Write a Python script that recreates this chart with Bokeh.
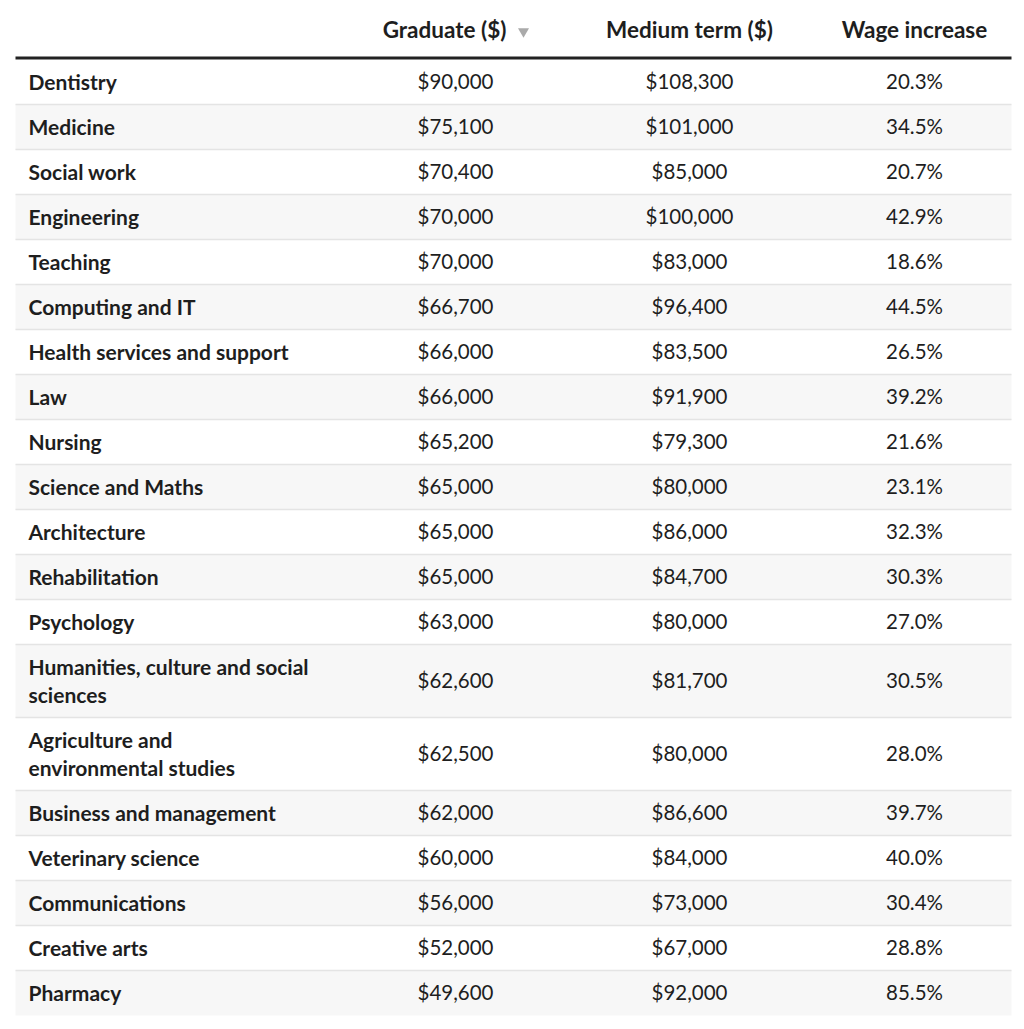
from bokeh.plotting import figure
from bokeh.models import ColumnDataSource, Range1d
from bokeh.core.properties import value
from bokeh.embed import file_html
from bokeh.resources import INLINE

categories = ["Dentistry", "Medicine", "Social work", "Engineering", "Teaching",
              "Computing and IT", "Health services and support", "Law", "Nursing",
              "Science and Maths", "Architecture", "Rehabilitation", "Psychology",
              "Humanities, culture and social\nsciences",
              "Agriculture and\nenvironmental studies",
              "Business and management", "Veterinary science", "Communications",
              "Creative arts", "Pharmacy"]
graduate = [90000, 75100, 70400, 70000, 70000, 66700, 66000, 66000, 65200, 65000,
            65000, 65000, 63000, 62600, 62500, 62000, 60000, 56000, 52000, 49600]
medium = [108300, 101000, 85000, 100000, 83000, 96400, 83500, 91900, 79300, 80000,
          86000, 84700, 80000, 81700, 80000, 86600, 84000, 73000, 67000, 92000]
wage = [20.3, 34.5, 20.7, 42.9, 18.6, 44.5, 26.5, 39.2, 21.6, 23.1, 32.3, 30.3,
        27.0, 30.5, 28.0, 39.7, 40.0, 30.4, 28.8, 85.5]
headers = ["Graduate ($)", "Medium term ($)", "Wage increase"]

FONT = "Lato"
TXT = "#1e1e1e"
W, H = 1016, 1021
p = figure(width=W, height=H, output_backend="svg", toolbar_location=None,
           x_range=Range1d(0, W), y_range=Range1d(H, 0),
           min_border=0)
p.axis.visible = False
p.grid.visible = False
p.outline_line_color = None
p.background_fill_color = "white"
p.border_fill_color = "white"

left, right = 15, 1011
top0 = 59
single_h, double_h = 45, 73
col_x = [455, 689, 914]
label_x = 28
line_gap = 28
dy = -1

tops, bots, centers = [], [], []
y = top0
for c in categories:
    h = double_h if "\n" in c else single_h
    tops.append(y)
    bots.append(y + h)
    centers.append(y + h / 2 + dy)
    y += h

# row backgrounds
fills = ["#ffffff" if i % 2 == 0 else "#f7f7f7" for i in range(len(categories))]
p.quad(left=left, right=right, top=tops, bottom=bots, fill_color=fills, line_color=None)

# separators
p.segment(x0=[left] * (len(categories) - 1), x1=[right] * (len(categories) - 1),
          y0=bots[:-1], y1=bots[:-1], line_color="#e4e4e4", line_width=1.5)

# header rule
p.segment(x0=[left], x1=[right], y0=[top0 - 1.5], y1=[top0 - 1.5], line_color="#222222", line_width=3)

# header text
hdr_x = [444, 689, 914]
p.text(x=hdr_x, y=[29] * 3, text=headers, text_font=value(FONT), text_font_style="bold",
       text_font_size="22.5px", text_color=TXT, text_align="center", text_baseline="middle")
p.scatter(x=[523], y=[31], marker="inverted_triangle", size=11, fill_color="#aaaaaa", line_color=None)

# labels
lx, ly, lt = [], [], []
for c, cy in zip(categories, centers):
    parts = c.split("\n")
    n = len(parts)
    for k, part in enumerate(parts):
        lx.append(label_x)
        ly.append(cy + (k - (n - 1) / 2) * line_gap)
        lt.append(part)
p.text(x=lx, y=ly, text=lt, text_font=value(FONT), text_font_style="bold",
       text_font_size="21px", text_color=TXT, text_align="left", text_baseline="middle")

src = ColumnDataSource(dict(
    y=centers,
    g=["${:,}".format(v) for v in graduate],
    m=["${:,}".format(v) for v in medium],
    w=["{:.1f}%".format(v) for v in wage],
))
for x, col in zip(col_x, ["g", "m", "w"]):
    p.text(x=x, y="y", text=col, source=src, text_font=value(FONT), text_font_size="20.5px",
           text_color=TXT, text_align="center", text_baseline="middle")

open("out.html", "w").write(file_html(p, INLINE))
